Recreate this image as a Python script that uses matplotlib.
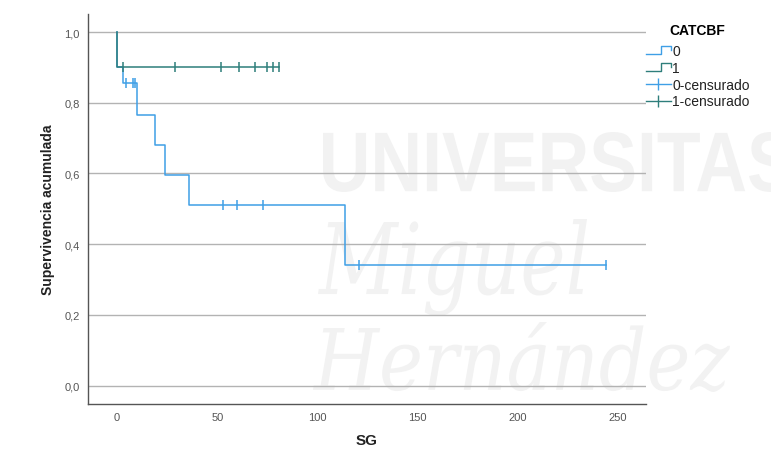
import numpy as np
import matplotlib
matplotlib.use("Agg")
import matplotlib.pyplot as plt
from matplotlib.lines import Line2D
from matplotlib.legend_handler import HandlerBase
from matplotlib.textpath import TextPath
from matplotlib.patches import PathPatch
from matplotlib.font_manager import FontProperties
from matplotlib.transforms import Affine2D

plt.rcParams["font.family"] = ["Liberation Sans", "DejaVu Sans"]

# Kaplan-Meier estimates for each CATCBF group
groups = ["0", "1"]
event_times_0 = [0, 3.2, 10.1, 19, 24, 36, 114]
surv_0 = [0.90, 0.855, 0.765, 0.68, 0.595, 0.51, 0.34]
censor_times_0 = [4.3, 8.1, 9.0, 53, 60, 73, 121, 244]

event_times_1 = [0]
surv_1 = [0.90]
censor_times_1 = [3, 29, 52, 61, 69, 75, 78, 81]

x_ticks = [0, 50, 100, 150, 200, 250]
y_ticks = [0.0, 0.2, 0.4, 0.6, 0.8, 1.0]

col_0 = "#3f9fe6"
col_1 = "#2e7e7b"

W, H = 771, 452
fig = plt.figure(figsize=(W / 100, H / 100), dpi=100, facecolor="white")
ax = fig.add_axes([88 / W, 1 - 405 / H, (646 - 88) / W, (405 - 15) / H])
ax.patch.set_facecolor("none")


def watermark(s, box, prop, color="#f2f2f2"):
    tp = TextPath((0, 0), s, size=1, prop=prop)
    ext = tp.get_extents()
    x0, y0, x1, y1 = box
    sx = (x1 - x0) / W / ext.width
    sy = (y1 - y0) / H / ext.height
    tr = (Affine2D().translate(-ext.x0, -ext.y0).scale(sx, sy)
          .translate(x0 / W, 1 - y1 / H) + fig.transFigure)
    fig.add_artist(PathPatch(tp, transform=tr, fc=color, ec="none", zorder=-5))


watermark("UNIVERSITAS", (323, 133, 792, 193),
          FontProperties(family="Liberation Sans", weight="bold"))
watermark("Miguel", (318, 220, 587, 317),
          FontProperties(family="DejaVu Serif", style="italic"))
watermark("Hernández", (313, 323, 730, 393),
          FontProperties(family="DejaVu Serif", style="italic"))


def km_curve(ax, times, surv, censors, color, z):
    end = max(censors)
    xs = [0] + list(times) + [end]
    ys = [1.0] + list(surv) + [surv[-1]]
    ax.step(xs, ys, where="post", color=color, lw=1.1, zorder=z)
    t_arr = np.array(times)
    s_arr = np.array(surv)
    cy = [s_arr[np.searchsorted(t_arr, c, side="right") - 1] for c in censors]
    ax.plot(censors, cy, ls="none", marker="|", ms=6.5, mew=1.1,
            color=color, zorder=z)


km_curve(ax, event_times_0, surv_0, censor_times_0, col_0, 3)
km_curve(ax, event_times_1, surv_1, censor_times_1, col_1, 4)

ax.set_xlim(-14.5, 264)
ax.set_ylim(-0.052, 1.051)
ax.set_xticks(x_ticks)
ax.set_yticks(y_ticks)
ax.set_yticklabels([f"{v:.1f}".replace(".", ",") for v in y_ticks])
ax.tick_params(length=0, labelsize=8, colors="#555555", pad=6)
for v in y_ticks:
    ax.axhline(v, color="#b3b3b3", lw=1.0, zorder=1)

for side in ("top", "right"):
    ax.spines[side].set_visible(False)
for side in ("left", "bottom"):
    ax.spines[side].set_color("#555555")
    ax.spines[side].set_linewidth(1.0)

ax.set_ylabel("Supervivencia acumulada", fontsize=10, fontweight="bold",
              color="#222222")
ax.yaxis.set_label_coords(-0.059, 0.5)
ax.set_xlabel("SG", fontsize=11, fontweight="bold", color="#222222",
              va="center")
ax.xaxis.set_label_coords(0.5, -0.092)


class StepHandler(HandlerBase):
    def create_artists(self, legend, orig_handle, xdescent, ydescent,
                       width, height, fontsize, trans):
        x0, y0 = -xdescent, -ydescent
        xs = [x0, x0 + 0.6 * width, x0 + 0.6 * width, x0 + width, x0 + width]
        ys = [y0 + 0.1 * height, y0 + 0.1 * height, y0 + 0.85 * height,
              y0 + 0.85 * height, y0 + 0.45 * height]
        ln = Line2D(xs, ys, color=orig_handle.get_color(), lw=1.0)
        ln.set_transform(trans)
        return [ln]


h0 = Line2D([], [], color=col_0)
h1 = Line2D([], [], color=col_1)
c0 = Line2D([], [], color=col_0, lw=1.0, marker="|", ms=8, mew=1.0)
c1 = Line2D([], [], color=col_1, lw=1.0, marker="|", ms=8, mew=1.0)
leg = fig.legend([h0, h1, c0, c1],
                 ["0", "1", "0-censurado", "1-censurado"],
                 handler_map={h0: StepHandler(), h1: StepHandler()},
                 loc="upper left", bbox_to_anchor=(636 / W, 1 - 14 / H),
                 frameon=False, fontsize=10, title="CATCBF",
                 title_fontproperties=FontProperties(family="Liberation Sans",
                                                     weight="bold", size=10),
                 handlelength=1.8, handletextpad=0.1, labelspacing=0.21,
                 numpoints=1, borderpad=0.2)
leg._legend_box.sep = 5
for t in leg.get_texts():
    t.set_color("#222222")

fig.savefig("out.png", dpi=100, facecolor="white")
